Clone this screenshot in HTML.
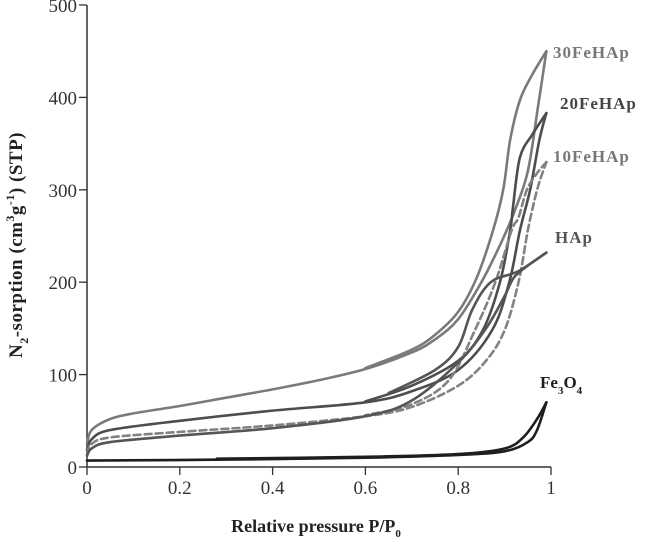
<!DOCTYPE html>
<html><head><meta charset="utf-8"><style>
html,body{margin:0;padding:0;background:#fff;}
svg{display:block;font-family:"Liberation Serif",serif;}
</style></head><body>
<svg id="chart" width="646" height="549" viewBox="0 0 646 549" xmlns="http://www.w3.org/2000/svg">
<g id="axes"></g>
<g id="plot"></g>
<text x="316" y="532" text-anchor="middle" font-size="18" font-weight="bold" fill="#222">Relative pressure P/P<tspan font-size="11" dy="5">0</tspan></text>
<text transform="translate(22,245) rotate(-90)" text-anchor="middle" font-size="19" font-weight="bold" fill="#222" letter-spacing="0.5">N<tspan font-size="12" dy="6">2</tspan><tspan dy="-6">-sorption (cm</tspan><tspan font-size="12" dy="-8">3</tspan><tspan dy="8">g</tspan><tspan font-size="12" dy="-8">-1</tspan><tspan dy="8">) (STP)</tspan></text>
</svg>
<script>
const xTicks=[0,0.2,0.4,0.6,0.8,1];
const xTickLabels=["0","0.2","0.4","0.6","0.8","1"];
const yTicks=[0,100,200,300,400,500];
const yTickLabels=["0","100","200","300","400","500"];
const seriesNames=["30FeHAp","20FeHAp","10FeHAp","HAp","Fe3O4"];
const ads30P=[0,0.01,0.05,0.1,0.2,0.3,0.4,0.5,0.6,0.7,0.75,0.8,0.85,0.89,0.92,0.95,0.972,0.99];
const ads30V=[25,40,52,58,66,75,84,94,106,124,138,160,200,240,275,320,390,450];
const des30P=[0.99,0.96,0.933,0.912,0.897,0.875,0.84,0.8,0.75,0.7,0.6];
const des30V=[450,425,397,354,300,256,205,168,143,127,107];
const ads20P=[0,0.01,0.05,0.2,0.4,0.6,0.7,0.8,0.873,0.91,0.933,0.955,0.975,0.99];
const ads20V=[18,30,40,50,61,70,82,105,148,200,256,300,354,383];
const des20P=[0.99,0.96,0.933,0.918,0.912,0.89,0.853,0.8,0.7,0.6];
const des20V=[383,360,335,281,256,200,148,115,88,71];
const ads10P=[0,0.01,0.05,0.2,0.4,0.6,0.7,0.8,0.86,0.9,0.93,0.95,0.965,0.976,0.99];
const ads10V=[14,25,32,38,45,55,65,88,115,148,200,256,290,310,330];
const des10P=[0.99,0.97,0.948,0.93,0.915,0.88,0.836,0.78,0.7,0.6];
const des10V=[330,318,300,270,256,200,148,94,68,56];
const adsHP=[0,0.01,0.05,0.2,0.4,0.6,0.7,0.8,0.86,0.9,0.92,0.95,0.99];
const adsHV=[12,20,27,34,42,55,72,113,150,185,205,218,232];
const desHP=[0.99,0.93,0.87,0.83,0.8,0.75,0.65];
const desHV=[232,212,200,170,130,105,80];
const adsFP=[0,0.3,0.6,0.8,0.9,0.95,0.97,0.99];
const adsFV=[7,8,10,13,17,27,40,70];
const desFP=[0.99,0.97,0.94,0.9,0.8,0.6,0.28];
const desFV=[70,52,32,20,14,11,9];

const NS="http://www.w3.org/2000/svg";
const X0=87,X1=551,Y0=467,Y1=5;
function xs(v){return X0+v*(X1-X0);}
function ys(v){return Y0-v/500*(Y0-Y1);}
function mk(tag,attrs,parent){const e=document.createElementNS(NS,tag);for(const k in attrs)e.setAttribute(k,attrs[k]);parent.appendChild(e);return e;}
const axes=document.getElementById('axes'),plot=document.getElementById('plot');
let a=mk('line',{x1:X0,y1:Y1,x2:X0,y2:Y0,stroke:'#333','stroke-width':1.5},axes);


a=mk('line',{x1:X0,y1:Y0,x2:X1,y2:Y0,stroke:'#333','stroke-width':1.5},axes);


xTicks.forEach((t,i)=>{
  const l=mk('line',{x1:xs(t),y1:Y0,x2:xs(t),y2:Y0+8,stroke:'#333','stroke-width':1.3},axes);
  
  
  const tx=mk('text',{x:xs(t),y:Y0+27,'text-anchor':'middle','font-size':19,fill:'#333'},axes);
  tx.textContent=xTickLabels[i];
  
  
});
yTicks.forEach((t,i)=>{
  const l=mk('line',{x1:X0-8,y1:ys(t),x2:X0,y2:ys(t),stroke:'#333','stroke-width':1.3},axes);
  
  
  const tx=mk('text',{x:X0-10,y:ys(t)+7,'text-anchor':'end','font-size':19,fill:'#333'},axes);
  tx.textContent=yTickLabels[i];
  
  
});
function pathD(P,V){
  const pts=P.map((p,i)=>[xs(p),ys(V[i])]);
  let d='M'+pts[0][0]+','+pts[0][1];
  for(let i=0;i<pts.length-1;i++){
    const p0=pts[i-1]||pts[i],p1=pts[i],p2=pts[i+1],p3=pts[i+2]||p2;
    const c1=[p1[0]+(p2[0]-p0[0])/6,p1[1]+(p2[1]-p0[1])/6];
    const c2=[p2[0]-(p3[0]-p1[0])/6,p2[1]-(p3[1]-p1[1])/6];
    d+=' C'+c1[0]+','+c1[1]+' '+c2[0]+','+c2[1]+' '+p2[0]+','+p2[1];
  }
  return d;
}
const defs=[
 [ads30P,ads30V,des30P,des30V,'#7a7a7a',null,'30FeHAp'],
 [ads20P,ads20V,des20P,des20V,'#4d4d4d',null,'20FeHAp'],
 [ads10P,ads10V,des10P,des10V,'#828282','7,4','10FeHAp'],
 [adsHP,adsHV,desHP,desHV,'#555',null,'HAp'],
 [adsFP,adsFV,desFP,desFV,'#1e1e1e',null,'Fe3O4']];
defs.forEach(s=>{
  [[s[0],s[1],'adsorption'],[s[2],s[3],'desorption']].forEach(b=>{
    const p=mk('path',{d:pathD(b[0],b[1]),fill:'none',stroke:s[4],'stroke-width':2.6,'stroke-linejoin':'round','stroke-linecap':'round'},plot);
    if(s[5])p.setAttribute('stroke-dasharray',s[5]);
    
    
  });
});
const labels=[[553,58,'30FeHAp','#777'],[560,109,'20FeHAp','#444'],[553,162,'10FeHAp','#777'],[555,243,'HAp','#555']];
labels.forEach(l=>{
  const t=mk('text',{x:l[0],y:l[1],'font-size':17,'font-weight':'bold',fill:l[3],'letter-spacing':'1'},plot);
  t.textContent=l[2];
  
  
});
const fe=mk('text',{x:540,y:388,'font-size':17,'font-weight':'bold',fill:'#1e1e1e'},plot);
fe.innerHTML='Fe<tspan font-size="11" dy="6">3</tspan><tspan dy="-6">O</tspan><tspan font-size="11" dy="6">4</tspan>';


</script>
</body></html>
